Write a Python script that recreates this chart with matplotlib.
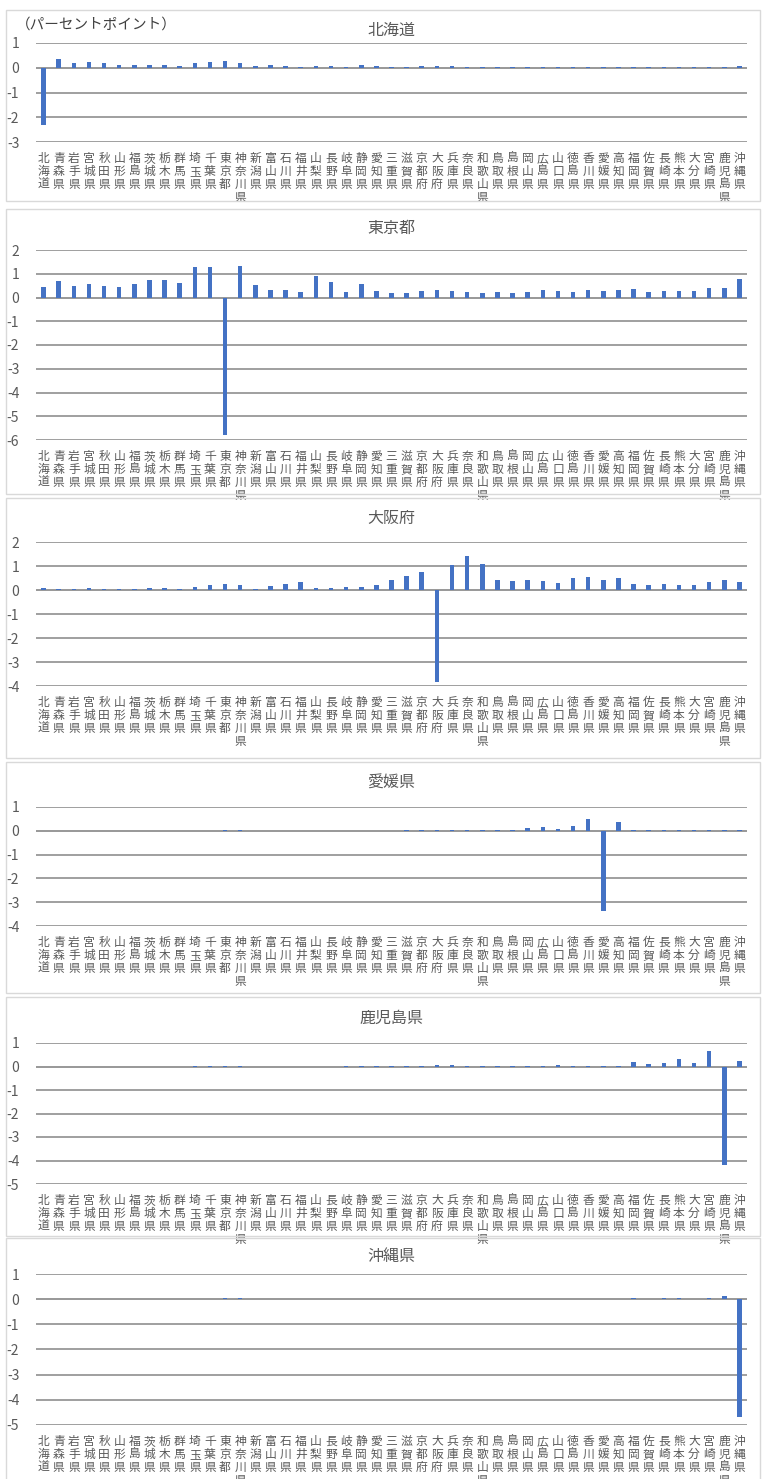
import matplotlib
matplotlib.use("Agg")
import matplotlib.pyplot as plt
from matplotlib.patches import Rectangle

plt.rcParams['font.family'] = ['Noto Sans CJK JP', 'DejaVu Sans']
plt.rcParams['axes.unicode_minus'] = False

# 都道府県（標準の並び）
prefs = ['北海道', '青森県', '岩手県', '宮城県', '秋田県', '山形県', '福島県', '茨城県', '栃木県', '群馬県',
         '埼玉県', '千葉県', '東京都', '神奈川県', '新潟県', '富山県', '石川県', '福井県', '山梨県', '長野県',
         '岐阜県', '静岡県', '愛知県', '三重県', '滋賀県', '京都府', '大阪府', '兵庫県', '奈良県', '和歌山県',
         '鳥取県', '島根県', '岡山県', '広島県', '山口県', '徳島県', '香川県', '愛媛県', '高知県', '福岡県',
         '佐賀県', '長崎県', '熊本県', '大分県', '宮崎県', '鹿児島県', '沖縄県']

# 各パネルの値（パーセントポイント）
hokkaido = [-2.3, 0.35, 0.2, 0.25, 0.18, 0.12, 0.12, 0.13, 0.1, 0.08,
            0.2, 0.22, 0.27, 0.2, 0.08, 0.1, 0.08, 0.05, 0.06, 0.07,
            0.05, 0.1, 0.09, 0.05, 0.05, 0.06, 0.06, 0.07, 0.05, 0.04,
            0.03, 0.02, 0.03, 0.05, 0.04, 0.03, 0.04, 0.04, 0.04, 0.05,
            0.03, 0.03, 0.04, 0.03, 0.03, 0.03, 0.06]
tokyo = [0.44, 0.68, 0.47, 0.56, 0.49, 0.46, 0.58, 0.75, 0.72, 0.6,
         1.28, 1.29, -5.78, 1.32, 0.51, 0.33, 0.33, 0.24, 0.92, 0.64,
         0.22, 0.58, 0.29, 0.2, 0.17, 0.29, 0.31, 0.29, 0.22, 0.17,
         0.22, 0.21, 0.25, 0.31, 0.26, 0.24, 0.31, 0.26, 0.31, 0.35,
         0.25, 0.29, 0.29, 0.29, 0.4, 0.39, 0.76]
osaka = [0.08, 0.04, 0.03, 0.08, 0.04, 0.03, 0.04, 0.08, 0.07, 0.06,
         0.14, 0.21, 0.24, 0.2, 0.06, 0.18, 0.25, 0.32, 0.08, 0.1,
         0.14, 0.11, 0.21, 0.43, 0.6, 0.76, -3.85, 1.06, 1.43, 1.1,
         0.43, 0.39, 0.42, 0.36, 0.28, 0.51, 0.56, 0.42, 0.5, 0.25,
         0.19, 0.24, 0.21, 0.22, 0.33, 0.4, 0.35]
ehime = [0.0, 0.0, 0.0, 0.0, 0.0, 0.0, 0.0, 0.0, 0.0, 0.0,
         0.0, 0.01, 0.03, 0.02, 0.0, 0.0, 0.0, 0.0, 0.0, 0.0,
         0.0, 0.0, 0.0, 0.01, 0.02, 0.03, 0.05, 0.05, 0.04, 0.03,
         0.03, 0.04, 0.1, 0.14, 0.07, 0.21, 0.49, -3.38, 0.37, 0.03,
         0.02, 0.03, 0.03, 0.04, 0.02, 0.02, 0.03]
kagoshima = [0.0, 0.0, 0.0, 0.0, 0.0, 0.0, 0.0, 0.0, 0.0, 0.0,
             0.01, 0.02, 0.03, 0.03, 0.0, 0.0, 0.0, 0.0, 0.0, 0.0,
             0.02, 0.02, 0.03, 0.02, 0.03, 0.04, 0.06, 0.05, 0.03, 0.02,
             0.01, 0.02, 0.02, 0.03, 0.05, 0.01, 0.01, 0.01, 0.02, 0.2,
             0.09, 0.14, 0.3, 0.13, 0.66, -4.21, 0.24]
okinawa = [0.0, 0.0, 0.0, 0.0, 0.0, 0.0, 0.0, 0.0, 0.0, 0.0,
           0.01, 0.02, 0.04, 0.03, 0.0, 0.0, 0.0, 0.0, 0.01, 0.0,
           0.0, 0.0, 0.02, 0.01, 0.0, 0.02, 0.02, 0.02, 0.01, 0.0,
           0.0, 0.0, 0.0, 0.02, 0.02, 0.0, 0.0, 0.0, 0.0, 0.04,
           0.02, 0.06, 0.03, 0.02, 0.04, 0.13, -4.7]

titles = ['北海道', '東京都', '大阪府', '愛媛県', '鹿児島県', '沖縄県']
series = [hokkaido, tokyo, osaka, ehime, kagoshima, okinawa]
ylims = [(-3, 1), (-6, 2), (-4, 2), (-4, 1), (-5, 1), (-5, 1)]

# レイアウト（ピクセル）: 上端の目盛, 下端の目盛, 枠の上, 枠の下, タイトル
W, H = 764, 1479
layout = [(43, 142, 10, 201, 30),
          (250, 440, 209, 494, 228),
          (542, 686, 498, 758, 518),
          (807, 926, 762, 993, 783),
          (1043, 1184, 997, 1236, 1018),
          (1274, 1425, 1238, 1490, 1257)]

blue = '#4472C4'
txt = '#595959'

fig = plt.figure(figsize=(W / 100, H / 100), dpi=100)
left, right = 36, 747
labels = ['\n'.join(p) for p in prefs]

for i in range(6):
    ytop, ybot, btop, bbot, ttl = layout[i]
    # パネルの枠
    fig.patches.append(Rectangle((6 / W, 1 - bbot / H), (760 - 6) / W, (bbot - btop) / H,
                                 transform=fig.transFigure, fill=False,
                                 edgecolor='#d9d9d9', linewidth=1, zorder=0))
    ax = fig.add_axes([left / W, 1 - ybot / H, (right - left) / W, (ybot - ytop) / H])
    ax.set_facecolor('none')
    ymin, ymax = ylims[i]
    x = list(range(len(prefs)))
    ax.bar(x, series[i], width=0.3, color=blue, zorder=3)
    ax.set_xlim(-0.5, len(prefs) - 0.5)
    ax.set_ylim(ymin, ymax)
    ax.set_yticks(range(ymin, ymax + 1))
    ax.set_yticklabels([str(v) for v in range(ymin, ymax + 1)])
    ax.grid(axis='y', color='#858585', linewidth=1.1, zorder=0)
    ax.axhline(0, color='#d9d9d9', linewidth=1.1, zorder=1)
    ax.set_xticks(x)
    ax.set_xticklabels(labels, fontsize=8.5, color=txt, linespacing=1.0)
    ax.tick_params(axis='both', length=0)
    ax.tick_params(axis='x', pad=7)
    ax.tick_params(axis='y', pad=12, labelsize=10, labelcolor=txt)
    for s in ax.spines.values():
        s.set_visible(False)
    fig.text((left + right) / 2 / W, 1 - ttl / H, titles[i], ha='center', va='center',
             fontsize=11.5, color=txt)

fig.text(16 / W, 1 - 25 / H, '（パーセントポイント）', ha='left', va='center',
         fontsize=10.5, color='#404040')

fig.savefig('out.png', dpi=100)
